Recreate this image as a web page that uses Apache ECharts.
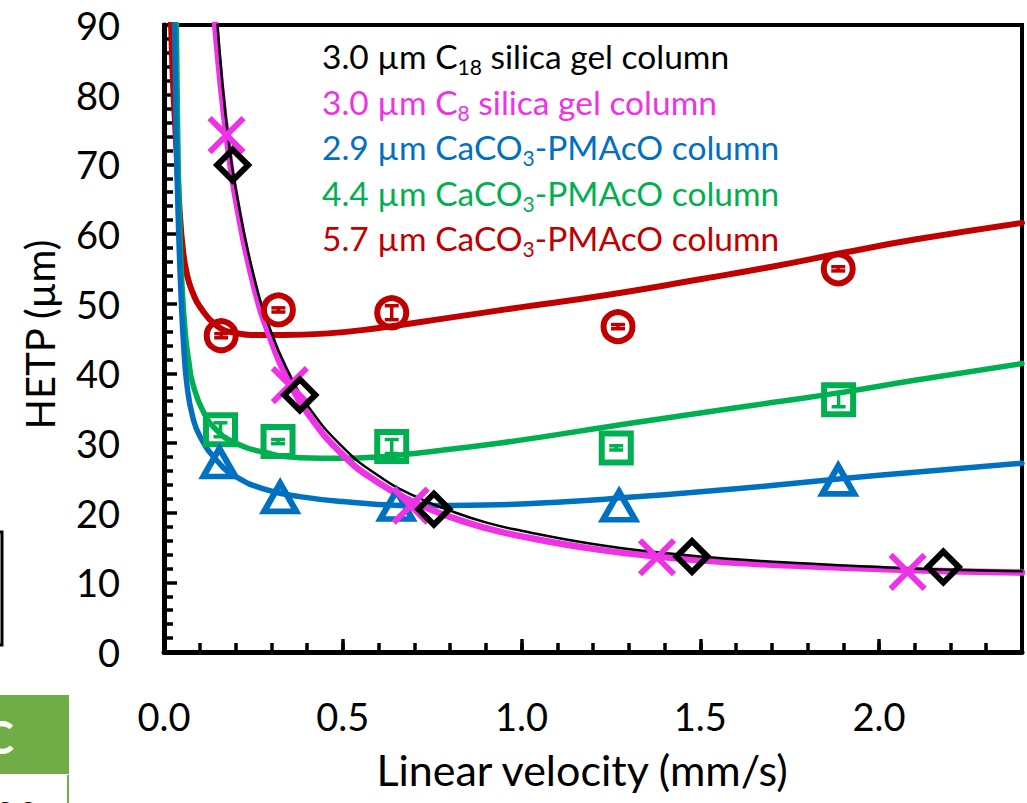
<!DOCTYPE html>
<html><head><meta charset="utf-8">
<script src="https://cdn.jsdelivr.net/npm/echarts@6/dist/echarts.min.js"></script>
<style>html,body{margin:0;padding:0;background:#fff}#c{width:1027px;height:803px}</style>
</head><body><div id="c"></div>
<script>
// ---- tick labels ----
const xTickLabels = ['0.0', '0.5', '1.0', '1.5', '2.0'];
const yTickLabels = ['0', '10', '20', '30', '40', '50', '60', '70', '80', '90'];

// ---- measured points [velocity mm/s, HETP µm] ----
const c18Points = [[0.192, 69.9], [0.38, 36.9], [0.755, 20.5], [1.477, 13.7], [2.18, 12.2]];
const c8Points = [[0.175, 74.2], [0.352, 38.3], [0.69, 21.0], [1.379, 13.6], [2.08, 11.5]];
const ca29Points = [[0.155, 27.2], [0.325, 22.2], [0.65, 21.1], [1.273, 21.0], [1.886, 24.7]];
const ca44Points = [[0.158, 31.9], [0.319, 30.2], [0.637, 29.5], [1.265, 29.3], [1.887, 36.2]];
const ca57Points = [[0.160, 45.4], [0.32, 49.1], [0.637, 48.7], [1.27, 46.7], [1.886, 55.0]];
// error bar half-heights
const ca44Err = [1.0, 0.3, 1.0, 0.3, 1.0];
const ca57Err = [0.3, 0.3, 1.0, 0.3, 0.3];

// ---- fitted curves ----
const c18Curve = [[0.147, 92], [0.162, 82.4], [0.18, 73.7], [0.2, 66.7], [0.25, 54.2], [0.3, 45.9], [0.35, 40.0], [0.4, 35.5], [0.5, 29.4], [0.6, 25.3], [0.7, 22.4], [0.8, 20.3], [0.9, 18.6], [1.0, 17.4], [1.2, 15.5], [1.4, 14.2], [1.6, 13.3], [1.8, 12.7], [2.0, 12.2], [2.2, 11.8], [2.4, 11.6]];
const c8Curve = [[0.14, 92], [0.16, 80.8], [0.18, 72.2], [0.2, 65.3], [0.25, 52.9], [0.3, 44.7], [0.35, 38.8], [0.4, 34.4], [0.5, 28.3], [0.6, 24.3], [0.7, 21.5], [0.8, 19.4], [0.9, 17.8], [1.0, 16.6], [1.2, 14.8], [1.4, 13.6], [1.6, 12.8], [1.8, 12.3], [2.0, 11.9], [2.2, 11.6], [2.4, 11.4]];
const ca29Curve = [[0.029, 92], [0.034, 75], [0.04, 62], [0.047, 52], [0.055, 44], [0.065, 38], [0.08, 33.8], [0.1, 31.0], [0.146, 27.6], [0.2, 25.2], [0.286, 23.3], [0.38, 22.3], [0.5, 21.6], [0.7, 21.0], [0.9, 21.1], [1.1, 21.5], [1.3, 22.2], [1.5, 23.0], [1.7, 23.9], [1.9, 24.9], [2.1, 25.8], [2.4, 27.1]];
const ca44Curve = [[0.034, 92], [0.038, 76], [0.043, 63], [0.05, 53], [0.06, 45.5], [0.07, 41.5], [0.08, 38.6], [0.108, 34.7], [0.146, 31.9], [0.2, 30.0], [0.286, 28.6], [0.38, 27.9], [0.5, 27.8], [0.6, 28.0], [0.7, 28.5], [0.8, 29.1], [0.94, 30.0], [1.1, 31.2], [1.3, 32.8], [1.5, 34.3], [1.7, 35.8], [1.9, 37.3], [2.1, 39.0], [2.4, 41.4]];
const ca57Curve = [[0.019, 92], [0.025, 82], [0.034, 73], [0.043, 64], [0.053, 57.7], [0.065, 54], [0.081, 51.5], [0.1, 49.6], [0.146, 46.9], [0.2, 45.8], [0.27, 45.5], [0.33, 45.5], [0.45, 45.7], [0.6, 46.5], [0.8, 48.0], [1.0, 49.5], [1.22, 51.1], [1.5, 53.5], [1.7, 55.3], [1.9, 57.3], [2.1, 59.2], [2.4, 61.6]];

const BLACK = '#000000', MAG = '#F032E6', BLUE = '#0070C0', GREEN = '#00B050', RED = '#C00000';
const FONT = 'Lato';

function withErr(pts, errs) { return pts.map((p, i) => [p[0], p[1], errs[i]]); }

function errRender(color) {
  return function (params, api) {
    const x = api.value(0), y = api.value(1), e = api.value(2);
    const top = api.coord([x, y + e]);
    const bot = api.coord([x, y - e]);
    const hw = 7;
    const st = { stroke: color, lineWidth: 3.5 };
    return {
      type: 'group',
      children: [
        { type: 'line', shape: { x1: top[0], y1: top[1], x2: bot[0], y2: bot[1] }, style: st },
        { type: 'line', shape: { x1: top[0] - hw, y1: top[1], x2: top[0] + hw, y2: top[1] }, style: st },
        { type: 'line', shape: { x1: bot[0] - hw, y1: bot[1], x2: bot[0] + hw, y2: bot[1] }, style: st }
      ]
    };
  };
}

function curve(data, color, width, z) {
  return { type: 'line', data, showSymbol: false, smooth: 0.5, clip: true,
    lineStyle: { color, width, cap: 'round', join: 'round' }, z, silent: true, animation: false };
}
function marks(data, symbol, size, color, bw) {
  return { type: 'scatter', data, symbol, symbolSize: size, z: 10, animation: false,
    itemStyle: { color: 'rgba(255,255,255,0)', borderColor: color, borderWidth: bw, opacity: 1 } };
}

const legendLines = [
  { pre: '3.0 µm C', sub: '18', post: ' silica gel column', color: BLACK },
  { pre: '3.0 µm C', sub: '8', post: ' silica gel column', color: MAG },
  { pre: '2.9 µm CaCO', sub: '3', post: '-PMAcO column', color: BLUE },
  { pre: '4.4 µm CaCO', sub: '3', post: '-PMAcO column', color: GREEN },
  { pre: '5.7 µm CaCO', sub: '3', post: '-PMAcO column', color: RED }
];

const chart = echarts.init(document.getElementById('c'), null, { renderer: 'svg' });

const graphics = legendLines.map((l, i) => ({
  type: 'text', x: 322, y: 58 + i * 45.5, z: 20,
  style: {
    text: '{a|' + l.pre + '}{s|' + l.sub + '}{a|' + l.post + '}',
    verticalAlign: 'middle', align: 'left',
    rich: {
      a: { fontSize: 33.5, fontFamily: FONT, fill: l.color, lineHeight: 38, verticalAlign: 'top' },
      s: { fontSize: 21, fontFamily: FONT, fill: l.color, lineHeight: 12, verticalAlign: 'bottom' }
    }
  }
}));
graphics.push(
  { type: 'rect', shape: { x: -20, y: 532, width: 22, height: 113 }, style: { fill: 'none', stroke: '#000', lineWidth: 3 } },
  { type: 'rect', shape: { x: 0, y: 695, width: 69, height: 79 }, style: { fill: '#70AD47' } },
  { type: 'text', x: 14, y: 736, style: { text: 'C', fill: '#fff', font: 'bold 46px Lato', align: 'right', verticalAlign: 'middle' } },
  { type: 'line', shape: { x1: 68, y1: 775, x2: 68, y2: 803 }, style: { stroke: '#70AD47', lineWidth: 2 } },
  { type: 'text', x: 40, y: 796, style: { text: '00', fill: '#000', font: '40px Lato', align: 'right', verticalAlign: 'top' } }
);

const option = {
  backgroundColor: '#fff',
  animation: false,
  grid: { left: 164, right: 5, top: 25, bottom: 151, show: true, borderColor: '#000', borderWidth: 4, backgroundColor: 'transparent' },
  xAxis: [
    {
      type: 'value', min: 0, max: 2.4, interval: 0.5,
      name: 'Linear velocity (mm/s)', nameLocation: 'middle', nameGap: 96,
      nameTextStyle: { fontFamily: FONT, fontSize: 43, color: '#000', padding: [0, 22, 0, 0] },
      axisLine: { show: true, lineStyle: { color: '#000', width: 5 } },
      axisTick: { show: true, inside: true, length: 13, lineStyle: { color: '#000', width: 3.5 } },
      axisLabel: { show: true, margin: 45, showMaxLabel: false, fontFamily: FONT, fontSize: 38, color: '#000',
        formatter: v => { const i = Math.round(v / 0.5); return Math.abs(v - i * 0.5) < 1e-6 && xTickLabels[i] ? xTickLabels[i] : ''; } },
      splitLine: { show: false }
    },
    {
      type: 'value', min: 0, max: 2.4, interval: 0.1, position: 'bottom',
      axisLine: { show: false },
      axisTick: { show: true, inside: true, length: 9, lineStyle: { color: '#000', width: 3.5 } },
      axisLabel: { show: false }, splitLine: { show: false }
    }
  ],
  yAxis: {
    type: 'value', min: 0, max: 90, interval: 10,
    name: 'HETP (µm)', nameLocation: 'middle', nameGap: 104, nameRotate: 90,
    nameTextStyle: { fontFamily: FONT, fontSize: 40, color: '#000', padding: [0, 0, 0, 8] },
    axisLine: { show: true, lineStyle: { color: '#000', width: 5 } },
    axisTick: { show: true, inside: true, length: 13, lineStyle: { color: '#000', width: 3.5 } },
    minorTick: { show: true, splitNumber: 5, length: 9, lineStyle: { color: '#000', width: 3.5 } },
    axisLabel: { margin: 44, fontFamily: FONT, fontSize: 38, color: '#000',
      formatter: v => yTickLabels[Math.round(v / 10)] },
    splitLine: { show: false }
  },
  graphic: graphics,
  series: [
    curve(ca57Curve, RED, 6, 2),
    curve(ca44Curve, GREEN, 5.5, 2),
    curve(ca29Curve, BLUE, 5.5, 2),
    curve(c8Curve, MAG, 6.5, 3),
    curve(c18Curve, BLACK, 2.5, 4),
    { type: 'custom', renderItem: errRender(RED), data: withErr(ca57Points, ca57Err), z: 11, animation: false },
    { type: 'custom', renderItem: errRender(GREEN), data: withErr(ca44Points, ca44Err), z: 11, animation: false },
    marks(ca57Points, 'circle', 29, RED, 6),
    marks(ca44Points, 'rect', 29, GREEN, 6),
    marks(ca29Points, 'triangle', [32, 28], BLUE, 6),
    marks(c8Points, 'path://M0,0L10,10M0,10L10,0', 34, MAG, 6),
    marks(c18Points, 'diamond', 31, BLACK, 6)
  ]
};
chart.setOption(option);
</script>
</body></html>
